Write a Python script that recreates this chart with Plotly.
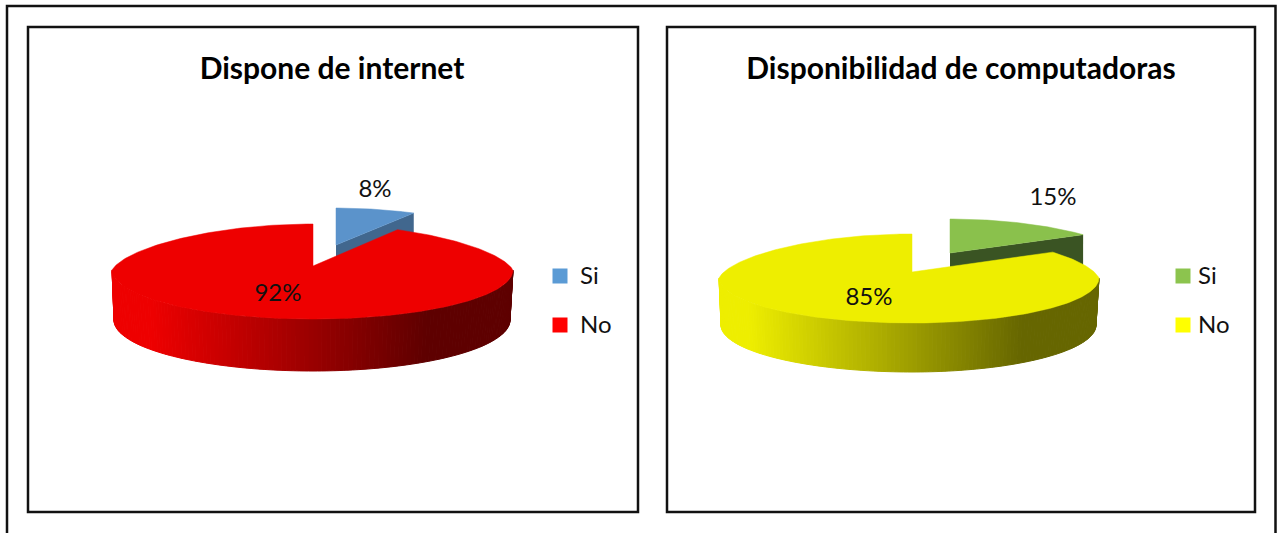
import numpy as np
import plotly.graph_objects as go

CATEGORIES = ["Si", "No"]
INTERNET_VALUES = [8, 92]
COMPUTER_VALUES = [15, 85]
TITLE_INTERNET = "Dispone de internet"
TITLE_COMPUTER = "Disponibilidad de computadoras"

FONT = "Lato, Carlito, Calibri, sans-serif"
INK = "#111111"

CHARTS = [
    dict(title=TITLE_INTERNET, values=INTERNET_VALUES, title_xy=(332, 71),
         frame=(28, 27, 638, 512), cx=313, cy=270, rxl=201, rxr=200, ryu=46, ryl=49, depth=50,
         small=dict(cx=336, cy=249, rx=184, ry=41), k=0.14,
         top=["#5b93cb", "#ee0000"], cut="#41678e", fg=(238, 0, 0), bg=(94, 0, 0),
         grad=(150, 427), key=["#5b9bd5", "#ff0000"], key_x=560, key_y=(276, 325), text_dx=20,
         lab_xy=[(375, 191), (278, 295)]),
    dict(title=TITLE_COMPUTER, values=COMPUTER_VALUES, title_xy=(961, 71),
         frame=(667, 27, 1255, 512), cx=912, cy=278, rxl=193, rxr=187, ryu=44, ryl=45, depth=47,
         small=dict(cx=950, cy=257, rx=177, ry=38), k=0.12,
         top=["#8ac14c", "#eeee00"], cut="#3a5423", fg=(238, 238, 0), bg=(102, 102, 0),
         grad=(748, 1022), key=["#8cc44e", "#ffff00"], key_x=1183, key_y=(276, 325), text_dx=15,
         lab_xy=[(1053, 199), (869, 299)]),
]


def rim(t, cx, cy, rxl, rxr, ryu, ryl, k):
    s, c = np.sin(t), np.cos(t)
    rx = np.where(s < 0, rxl, rxr)
    x = cx + rx * s * (1 - k * np.clip(c, 0, None))
    y = cy - np.where(c > 0, ryu, ryl) * c
    return x, y


def poly(fig, x, y, color, lw=0):
    fig.add_trace(go.Scatter(x=list(x), y=list(y), mode="lines", fill="toself", fillcolor=color,
                             line=dict(color=color, width=lw), hoverinfo="skip", showlegend=False))


fig = go.Figure()

for ch in CHARTS:
    total = sum(ch["values"])
    edges = np.cumsum([0] + ch["values"]) / total * 2 * np.pi
    # first slice: pulled out and drawn behind
    sm = ch["small"]
    t = np.linspace(edges[0], edges[1], 60)
    x, y = rim(t, sm["cx"], sm["cy"], sm["rx"], sm["rx"], sm["ry"], sm["ry"], ch["k"])
    ax, ay = sm["cx"], sm["cy"] - 4
    poly(fig, [ax, x[-1], x[-1], ax, ax], [ay, y[-1], y[-1] + ch["depth"], ay + ch["depth"], ay], ch["cut"])
    poly(fig, np.r_[ax, x, ax], np.r_[ay, y, ay], ch["top"][0], 0.5)

    # second slice: wall with a left-to-right shade, then the top
    g = dict(cx=ch["cx"], cy=ch["cy"], rxl=ch["rxl"], rxr=ch["rxr"], ryu=ch["ryu"], ryl=ch["ryl"], k=ch["k"])
    b = dict(g, cy=ch["cy"] + ch["depth"], rxl=ch["rxl"] - 2, rxr=ch["rxr"] - 3, ryl=ch["ryl"] + 2)
    lo, hi = max(edges[1], np.pi / 2), min(edges[2], 3 * np.pi / 2)
    ws = np.linspace(lo, hi, 141)
    for a0, a1 in zip(ws[:-1], ws[1:]):
        tt = np.array([a0, a1])
        xt, yt = rim(tt, **g)
        xb, yb = rim(tt, **b)
        mid = xt.mean()
        f = np.clip((mid - ch["grad"][0]) / (ch["grad"][1] - ch["grad"][0]), 0, 1)
        rgb = [int(round(p + (q - p) * f)) for p, q in zip(ch["fg"], ch["bg"])]
        poly(fig, [xt[0], xt[1], xb[1], xb[0], xt[0]], [yt[0], yt[1], yb[1], yb[0], yt[0]],
             f"rgb({rgb[0]},{rgb[1]},{rgb[2]})", 1)
    t = np.linspace(edges[1], edges[2], 300)
    x, y = rim(t, **g)
    ax, ay = ch["cx"], ch["cy"] - (4 if ch["cx"] < 600 else 6)
    poly(fig, np.r_[ax, x, ax], np.r_[ay, y, ay], ch["top"][1], 0.5)

    # percentage labels
    pct = [f"{round(v / total * 100)}%" for v in ch["values"]]
    fig.add_trace(go.Scatter(x=[p[0] for p in ch["lab_xy"]], y=[p[1] for p in ch["lab_xy"]], text=pct,
                             mode="text", textposition="middle center",
                             textfont=dict(family=FONT, size=24, color="#111111"),
                             hoverinfo="skip", showlegend=False))
    # title
    fig.add_trace(go.Scatter(x=[ch["title_xy"][0]], y=[ch["title_xy"][1]], text=[f"<b>{ch['title']}</b>"],
                             mode="text", textposition="middle center",
                             textfont=dict(family=FONT, size=30, color="#000000"),
                             hoverinfo="skip", showlegend=False))
    # legend keys
    for name, col, ky in zip(CATEGORIES, ch["key"], ch["key_y"]):
        fig.add_trace(go.Scatter(x=[ch["key_x"]], y=[ky], mode="markers",
                                 marker=dict(symbol="square", size=15, color=col, line=dict(width=0)),
                                 hoverinfo="skip", showlegend=False))
        fig.add_trace(go.Scatter(x=[ch["key_x"] + ch["text_dx"]], y=[ky + 2], text=[name], mode="text",
                                 textposition="middle right",
                                 textfont=dict(family=FONT, size=24, color="#111111"),
                                 hoverinfo="skip", showlegend=False))

shapes = [dict(type="rect", x0=7, y0=6, x1=1275.5, y1=560, line=dict(color=INK, width=2.5))]
for ch in CHARTS:
    x0, y0, x1, y1 = ch["frame"]
    shapes.append(dict(type="rect", x0=x0, y0=y0, x1=x1, y1=y1, line=dict(color=INK, width=2.5)))

fig.update_layout(
    width=1277, height=533, margin=dict(l=0, r=0, t=0, b=0),
    paper_bgcolor="white", plot_bgcolor="white", showlegend=False, shapes=shapes,
    xaxis=dict(range=[0, 1277], visible=False, fixedrange=True),
    yaxis=dict(range=[533, 0], visible=False, fixedrange=True),
)

fig.write_html("out.html", config={"displayModeBar": False},
               post_script="document.body.style.margin='0';document.body.style.overflow='hidden';")
